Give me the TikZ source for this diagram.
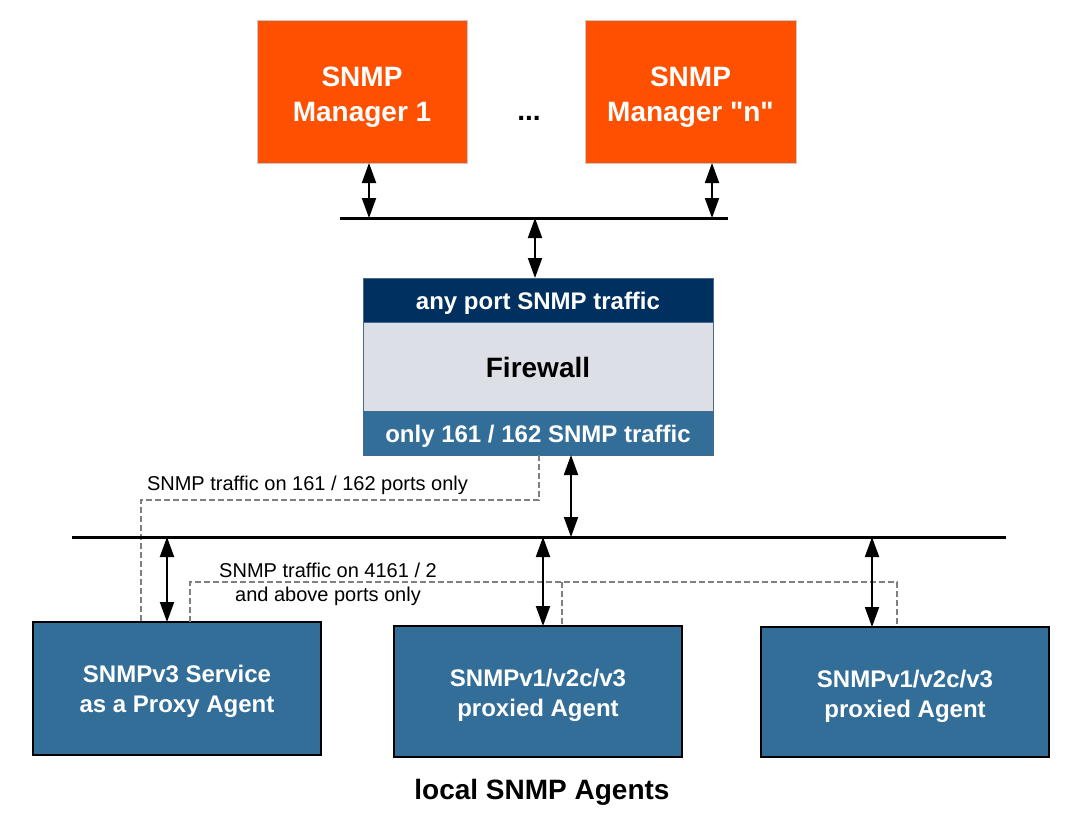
\documentclass[tikz,border=0pt]{standalone}
\usepackage{fontspec}
\setmainfont{Liberation Sans}
\usepackage{tikz}
\usetikzlibrary{positioning, arrows.meta, calc}

\newcommand\straightquote{\XeTeXglyph\the\XeTeXcharglyph"22\relax}

\begin{document}
\begin{tikzpicture}[x=1pt,y=-1pt,
  mgrbox/.style={draw=mgrEdge,line width=0.8pt,fill=mgrFill,anchor=north west,
    inner sep=0pt,outer sep=0pt},
  mgrtext/.style={text=white,inner sep=0pt,align=center,font=\bfseries\fontsize{28}{35}\selectfont},
  band/.style={draw=fwEdge,line width=0.8pt,anchor=north west,minimum width=350pt,
    inner sep=0pt,outer sep=0pt},
  bandtext/.style={inner sep=0pt,font=\bfseries\fontsize{24}{30}\selectfont},
  agentbox/.style={draw=black,line width=1.5pt,fill=agentFill,anchor=north west,
    minimum width=288pt,inner sep=0pt,outer sep=0pt},
  agenttext/.style={text=white,inner sep=0pt,align=center,font=\bfseries\fontsize{24}{30}\selectfont},
  bus/.style={draw=black,line width=3pt},
  link/.style={draw=black,line width=2pt,
    {Triangle[length=20pt,width=14pt]}-{Triangle[length=20pt,width=14pt]}},
  tap/.style={draw=tapColor,line width=1.5pt,dash pattern=on 6pt off 3pt},
  note/.style={inner sep=0pt,outer sep=0pt,font=\fontsize{20}{24}\selectfont}]
\definecolor{fillColor}{RGB}{255,255,255}
\definecolor{mgrFill}{RGB}{255,80,0}
\definecolor{mgrEdge}{RGB}{200,200,200}
\definecolor{fwTop}{RGB}{0,48,96}
\definecolor{fwMid}{RGB}{220,223,230}
\definecolor{fwEdge}{RGB}{70,105,140}
\definecolor{agentFill}{RGB}{51,110,153}
\definecolor{tapColor}{RGB}{128,128,128}

\path[use as bounding box,fill=fillColor] (0,0) rectangle (1083,832);

% managers
\node[mgrbox,minimum width=210pt,minimum height=143pt] (mgr1) at (257,20) {};
\node[mgrbox,minimum width=211pt,minimum height=143pt] (mgrn) at (585,20) {};
\node[mgrtext] (mgr1txt) at ($(mgr1.center)+(0,6)$) {SNMP\\Manager 1};
\node[mgrtext] (mgrntxt) at ($(mgrn.center)+(0,6)$) {SNMP\\Manager \straightquote n\straightquote};
\node[anchor=base,inner sep=0pt,font=\bfseries\fontsize{28}{35}\selectfont] (dots) at (529,121) {...};

% firewall
\node[band,fill=fwTop,minimum height=44pt] (fwtop) at (363,278) {};
\node[band,fill=fwMid,minimum height=89pt] (fwmid) at (363,322) {};
\node[band,fill=agentFill,minimum height=44pt] (fwbot) at (363,411) {};
\node[bandtext,text=white] (fwtoptxt) at ($(fwtop.center)+(0,3)$) {any port SNMP traffic};
\node[bandtext,text=black,font=\bfseries\fontsize{28}{35}\selectfont] (fwmidtxt) at ($(fwmid.center)+(0,1)$) {Firewall};
\node[bandtext,text=white] (fwbottxt) at ($(fwbot.center)+(0,3)$) {only 161 / 162 SNMP traffic};

% agents
\node[agentbox,minimum height=133pt] (proxy) at (33,622) {};
\node[agentbox,minimum height=131pt] (agent2) at (394,626) {};
\node[agentbox,minimum height=130pt] (agent3) at (761,627) {};
\node[agenttext] (proxytxt) at ($(proxy.center)+(0,3)$) {SNMPv3 Service\\as a Proxy Agent};
\node[agenttext] (agent2txt) at ($(agent2.center)+(0,4)$) {SNMPv1/v2c/v3\\proxied Agent};
\node[agenttext] (agent3txt) at ($(agent3.center)+(0,4)$) {SNMPv1/v2c/v3\\proxied Agent};

% dashed port paths
\coordinate (hop1) at (539,500);
\coordinate (hop2) at (141,500);
\coordinate (hop3) at (190,582);
\coordinate (hop4) at (897,582);
\coordinate (hop5) at (562,582);
\draw[tap] (hop1 |- fwbot.south) -- (hop1) -- (hop2) -- (hop2 |- proxy.north);
\draw[tap] (hop3 |- proxy.north) -- (hop3) -- (hop4) -- (hop4 |- agent3.north);
\draw[tap] (hop5) -- (hop5 |- agent2.north);

\node[note,anchor=base west] (note1) at (147,490) {SNMP traffic on 161 / 162 ports only};
\node[note,anchor=base,align=center] (note2) at (328,601) {SNMP traffic on 4161 / 2\\and above ports only};

% buses
\coordinate (busTopW) at (340,218);
\coordinate (busTopE) at (728,218);
\coordinate (busLowW) at (72,537);
\coordinate (busLowE) at (1006,537);
\draw[bus] (busTopW) -- (busTopE);
\draw[bus] (busLowW) -- (busLowE);

% links
\coordinate (up1) at (369,218);
\coordinate (upn) at (712,218);
\coordinate (upfw) at (535,218);
\coordinate (lowfw) at (571,537);
\coordinate (low1) at (167,537);
\coordinate (low2) at (543,537);
\coordinate (low3) at (872,537);
\draw[link] (up1 |- mgr1.south) -- (up1);
\draw[link] (upn |- mgrn.south) -- (upn);
\draw[link] (upfw) -- (upfw |- fwtop.north);
\draw[link] (lowfw |- fwbot.south) -- (lowfw);
\draw[link] (low1) -- (low1 |- proxy.north);
\draw[link] (low2) -- (low2 |- agent2.north);
\draw[link] (low3) -- (low3 |- agent3.north);

\node[anchor=base,inner sep=0pt,font=\bfseries\fontsize{28}{35}\selectfont] (caption) at (542,799) {local SNMP Agents};
\end{tikzpicture}
\end{document}
